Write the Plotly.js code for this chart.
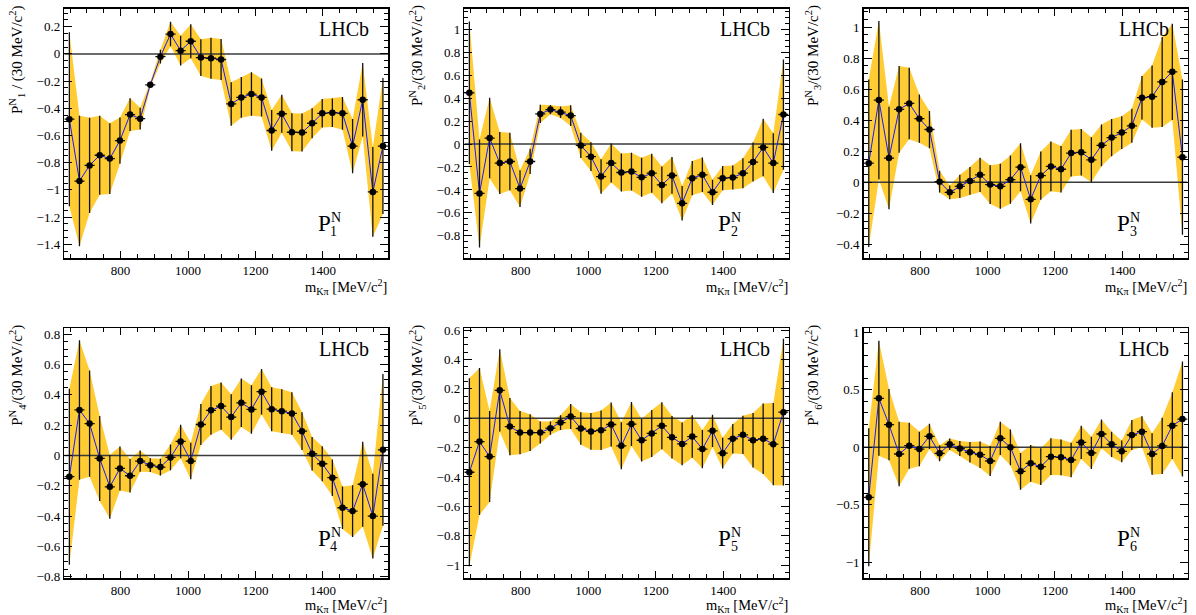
<!DOCTYPE html>
<html>
<head>
<meta charset="utf-8">
<script src="https://cdn.plot.ly/plotly-3.0.1.min.js"></script>
<style>
html,body{margin:0;padding:0;background:#fff;}
#chart{width:1196px;height:615px;}
</style>
</head>
<body>
<div id="chart"></div>
<script>
// Bin centres of m(K pi) [MeV/c^2], 30 MeV wide bins
const mKpi = [648,678,708,738,768,798,828,858,888,918,948,978,1008,1038,1068,1098,
              1128,1158,1188,1218,1248,1278,1308,1338,1368,1398,1428,1458,1488,1518,1548,1578];
const binHalfWidth = 15;
const xRange = [633, 1593];

const p1Val = [-0.48,-0.935,-0.82,-0.745,-0.77,-0.637,-0.446,-0.476,-0.227,-0.02,0.146,0.024,0.093,-0.027,-0.032,-0.041,
               -0.368,-0.32,-0.295,-0.32,-0.563,-0.44,-0.576,-0.578,-0.51,-0.437,-0.432,-0.437,-0.678,-0.337,-1.015,-0.678];
const p1Err = [0.64,0.48,0.35,0.29,0.26,0.17,0.12,0.08,0.02,0.05,0.09,0.11,0.125,0.135,0.15,0.15,
               0.16,0.15,0.16,0.14,0.15,0.14,0.14,0.14,0.11,0.105,0.105,0.12,0.2,0.27,0.33,0.5];

const p2Val = [0.446,-0.43,0.052,-0.166,-0.152,-0.388,-0.152,0.262,0.3,0.277,0.248,-0.012,-0.11,-0.283,-0.166,-0.248,
               -0.24,-0.29,-0.254,-0.356,-0.274,-0.516,-0.297,-0.268,-0.42,-0.297,-0.292,-0.254,-0.157,-0.03,-0.166,0.257];
const p2Err = [0.62,0.47,0.35,0.27,0.25,0.16,0.11,0.08,0.04,0.05,0.09,0.11,0.125,0.15,0.17,0.165,
               0.165,0.17,0.17,0.16,0.16,0.15,0.15,0.15,0.11,0.105,0.105,0.13,0.17,0.25,0.26,0.48];

const p3Val = [0.123,0.53,0.156,0.47,0.508,0.41,0.34,0.004,-0.065,-0.026,0.009,0.048,-0.015,-0.026,0.017,0.097,
               -0.11,0.043,0.102,0.084,0.188,0.193,0.145,0.238,0.288,0.32,0.364,0.545,0.552,0.647,0.712,0.162];
const p3Err = [0.54,0.51,0.33,0.28,0.23,0.155,0.12,0.07,0.045,0.075,0.09,0.11,0.125,0.145,0.155,0.155,
               0.155,0.155,0.16,0.15,0.15,0.15,0.145,0.135,0.12,0.105,0.11,0.14,0.2,0.29,0.31,0.5];

const p4Val = [-0.14,0.3,0.21,-0.02,-0.207,-0.086,-0.134,-0.037,-0.064,-0.077,-0.013,0.092,-0.037,0.204,0.297,0.325,
               0.253,0.347,0.303,0.42,0.305,0.292,0.277,0.16,0.011,-0.055,-0.147,-0.345,-0.367,-0.19,-0.4,0.037];
const p4Err = [0.58,0.46,0.35,0.28,0.21,0.145,0.11,0.07,0.045,0.055,0.085,0.11,0.12,0.135,0.16,0.155,
               0.15,0.16,0.16,0.15,0.145,0.145,0.14,0.125,0.11,0.115,0.12,0.14,0.17,0.28,0.28,0.5];

const p5Val = [-0.368,-0.159,-0.261,0.19,-0.057,-0.098,-0.098,-0.098,-0.068,-0.03,0.011,-0.07,-0.09,-0.082,-0.043,-0.188,
               -0.04,-0.15,-0.104,-0.052,-0.13,-0.175,-0.125,-0.21,-0.086,-0.238,-0.14,-0.113,-0.15,-0.14,-0.177,0.041];
const p5Err = [0.64,0.5,0.31,0.28,0.195,0.147,0.125,0.075,0.045,0.05,0.085,0.11,0.125,0.135,0.15,0.16,
               0.15,0.145,0.16,0.16,0.145,0.145,0.145,0.13,0.11,0.105,0.1,0.13,0.185,0.24,0.28,0.5];

const p6Val = [-0.435,0.426,0.197,-0.058,0.014,-0.015,0.096,-0.052,0.026,-0.01,-0.043,-0.064,-0.119,0.078,0.0,-0.209,
               -0.139,-0.168,-0.081,-0.087,-0.11,0.043,-0.049,0.116,0.026,-0.035,0.107,0.136,-0.058,0.012,0.188,0.246];
const p6Err = [0.6,0.5,0.31,0.28,0.2,0.15,0.11,0.07,0.05,0.065,0.09,0.115,0.13,0.145,0.155,0.16,
               0.16,0.16,0.16,0.155,0.15,0.145,0.14,0.125,0.11,0.095,0.13,0.135,0.18,0.245,0.29,0.5];

const momentIndex = ['1','2','3','4','5','6'];
const panels = [
  {val:p1Val, err:p1Err, yTitle:'P<sup>N</sup><sub>1</sub> / (30 MeV/c<sup>2</sup>)'},
  {val:p2Val, err:p2Err, yTitle:'P<sup>N</sup><sub>2</sub>/(30 MeV/c<sup>2</sup>)'},
  {val:p3Val, err:p3Err, yTitle:'P<sup>N</sup><sub>3</sub>/(30 MeV/c<sup>2</sup>)'},
  {val:p4Val, err:p4Err, yTitle:'P<sup>N</sup><sub>4</sub>/(30 MeV/c<sup>2</sup>)'},
  {val:p5Val, err:p5Err, yTitle:'P<sup>N</sup><sub>5</sub>/(30 MeV/c<sup>2</sup>)'},
  {val:p6Val, err:p6Err, yTitle:'P<sup>N</sup><sub>6</sub>/(30 MeV/c<sup>2</sup>)'}
];
const yRanges = [[-1.503,0.334],[-0.995,1.18],[-0.49,1.12],[-0.81,0.838],[-1.09,0.612],[-1.139,1.035]];
const yDticks = [0.2,0.2,0.2,0.2,0.2,0.5];
const yMinor = [0.05,0.05,0.05,0.05,0.05,0.1];

const W = 1196, H = 615;
const colPx = [[64.3,388],[464.3,788.5],[863.7,1187.5]];
const rowPx = [[8.5,258.3],[328.3,578.3]];
const yTitleX = [17,417,813];
const labelLift = [0, 5];      // moment label baseline raise per row (px)
const xTitleOff = [29, 26.5];  // x-title centre below the frame per row (px)

const FONT = '"Liberation Serif", "Times New Roman", serif';
const bandColor = '#FFCC33';

const traces = [];
const layout = {
  width: W, height: H,
  margin: {l:0, r:0, t:0, b:0},
  paper_bgcolor: '#fff', plot_bgcolor: '#fff',
  showlegend: false,
  font: {family: FONT, color: '#000'},
  annotations: [],
  shapes: []
};

function ann(o) { return Object.assign({showarrow: false, borderpad: 0}, o); }

panels.forEach((p, k) => {
  const ax = k === 0 ? '' : String(k+1);
  const xa = 'x' + ax, ya = 'y' + ax;
  const col = k % 3, row = Math.floor(k / 3);
  const up = p.val.map((v,i) => v + p.err[i]);
  const lo = p.val.map((v,i) => v - p.err[i]);

  traces.push({
    x: mKpi.concat(mKpi.slice().reverse()),
    y: up.concat(lo.slice().reverse()),
    xaxis: xa, yaxis: ya, mode: 'lines', fill: 'toself',
    fillcolor: bandColor, line: {width: 0, color: bandColor}, hoverinfo: 'skip'
  });
  traces.push({
    x: xRange, y: [0,0], xaxis: xa, yaxis: ya, mode: 'lines',
    line: {color: '#3a3a3a', width: 1.5}, hoverinfo: 'skip'
  });
  traces.push({
    x: mKpi, y: p.val, xaxis: xa, yaxis: ya, mode: 'lines',
    line: {color: '#1a1aff', width: 1}
  });
  traces.push({
    x: mKpi, y: p.val, xaxis: xa, yaxis: ya, mode: 'markers',
    marker: {color: '#000', size: 6.5, symbol: 'circle'},
    error_y: {type: 'data', array: p.err, visible: true, color: '#111', thickness: 1.3, width: 0},
    error_x: {type: 'constant', value: binHalfWidth, visible: true, color: '#111', thickness: 1.3, width: 0}
  });

  const xd = [colPx[col][0]/W, colPx[col][1]/W];
  const yd = [1 - rowPx[row][1]/H, 1 - rowPx[row][0]/H];
  const common = {
    ticks: 'inside', tickcolor: '#000', tickwidth: 1, mirror: 'allticks',
    showline: true, linecolor: '#000', linewidth: 1.5,
    showgrid: false, zeroline: false,
    tickfont: {family: FONT, size: 13, color: '#000'}
  };
  layout['xaxis' + ax] = Object.assign({}, common, {
    domain: xd, anchor: ya, range: xRange, tick0: 0, dtick: 200, ticklen: 7,
    minor: {dtick: 50, tick0: 0, ticklen: 4, tickwidth: 1, tickcolor: '#000', ticks: 'inside', showgrid: false}
  });
  layout['yaxis' + ax] = Object.assign({}, common, {
    domain: yd, anchor: xa, range: yRanges[k], tick0: 0, dtick: yDticks[k], ticklen: 8,
    minor: {dtick: yMinor[k], tick0: 0, ticklen: 4, tickwidth: 1, tickcolor: '#000', ticks: 'inside', showgrid: false}
  });

  const xdom = xa + ' domain', ydom = ya + ' domain';
  // LHCb tag
  layout.annotations.push(ann({
    xref: xdom, yref: ydom, x: 1, y: 1, xanchor: 'center', yanchor: 'middle',
    xshift: -44, yshift: -21, text: 'LHCb',
    font: {family: FONT, size: 20, color: '#000'}
  }));
  // moment label P (stacked N superscript and index subscript, as in the original)
  const lift = labelLift[row];
  layout.annotations.push(ann({
    xref: xdom, yref: ydom, x: 1, y: 0, xanchor: 'center', yanchor: 'middle',
    xshift: -63.8, yshift: 34.4 + lift, text: 'P',
    font: {family: FONT, size: 23, color: '#000'}
  }));
  layout.annotations.push(ann({
    xref: xdom, yref: ydom, x: 1, y: 0, xanchor: 'left', yanchor: 'middle',
    xshift: -58.3, yshift: 41 + lift, text: 'N',
    font: {family: FONT, size: 14, color: '#000'}
  }));
  layout.annotations.push(ann({
    xref: xdom, yref: ydom, x: 1, y: 0, xanchor: 'left', yanchor: 'middle',
    xshift: -58.8, yshift: 27 + lift, text: momentIndex[k],
    font: {family: FONT, size: 14, color: '#000'}
  }));
  // x title
  layout.annotations.push(ann({
    xref: xdom, yref: 'paper', x: 1, y: 1 - (rowPx[row][1] + xTitleOff[row])/H,
    xanchor: 'right', yanchor: 'middle',
    text: 'm<sub>Kπ</sub> [MeV/c<sup>2</sup>]',
    font: {family: FONT, size: 14.5, color: '#000'}
  }));
  // y title
  layout.annotations.push(ann({
    xref: 'paper', yref: 'paper', x: yTitleX[col]/W, y: 1 - (rowPx[row][0] - 4)/H,
    xanchor: 'center', yanchor: 'top', textangle: -90,
    text: p.yTitle,
    font: {family: FONT, size: 15, color: '#000'}
  }));
});

Plotly.newPlot('chart', traces, layout, {staticPlot: true, displayModeBar: false});
</script>
</body>
</html>
